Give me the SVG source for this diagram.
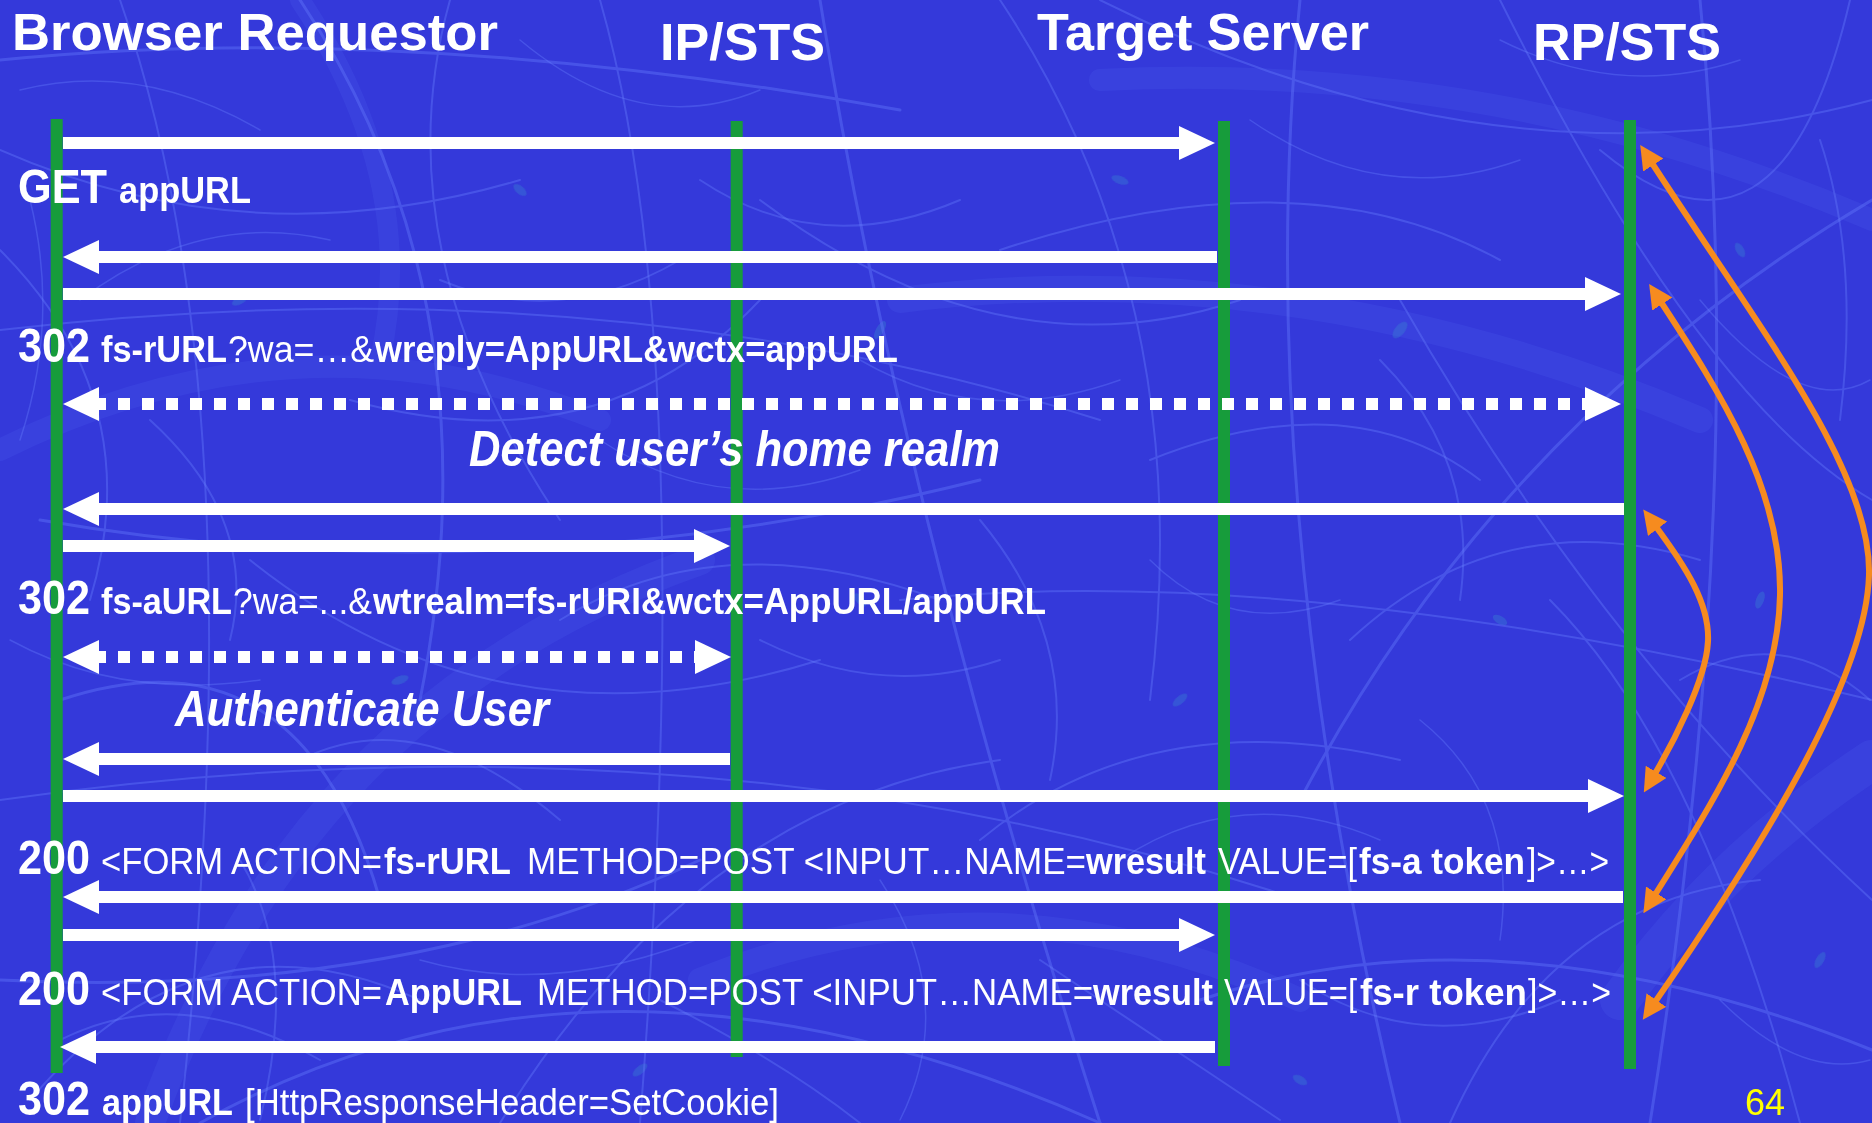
<svg xmlns="http://www.w3.org/2000/svg" width="1872" height="1123" viewBox="0 0 1872 1123">
  <defs>
    <style>
      .bg { fill: #3439da; }
      .fiber { fill: none; stroke: #6074f8; stroke-linecap: round; opacity: 0.45; }
      .thin { fill: none; stroke: #6a82ff; stroke-linecap: round; opacity: 0.35; }
      .band { fill: none; stroke: #4e64f2; stroke-linecap: round; opacity: 0.2; }
      .spot { fill: #3a8ad0; opacity: 0.35; }
      .life { stroke: #179c3b; stroke-width: 12; }
      .msg { fill: none; stroke: #ffffff; stroke-width: 12; marker-end: url(#head); }
      .dash { stroke-dasharray: 12 12; stroke-dashoffset: 4; marker-start: url(#head); }
      .loop { fill: none; stroke: #f68b1f; stroke-width: 6; marker-start: url(#ohead); marker-end: url(#ohead); }
      text { font-family: "Liberation Sans", Arial, sans-serif; fill: #ffffff; }
      .title { font-size: 52px; font-weight: 700; }
      .lbl { font-size: 36px; }
      .big { font-size: 48px; font-weight: 700; }
      .b { font-weight: 700; }
      .note { font-size: 50px; font-weight: 700; font-style: italic; }
      .page { font-size: 36px; fill: #ffff00; }
    </style>
    <marker id="head" viewBox="0 0 36 34" refX="1" refY="17" markerWidth="36" markerHeight="34" markerUnits="userSpaceOnUse" orient="auto-start-reverse">
      <path d="M0,0 L36,17 L0,34 z" fill="#ffffff"/>
    </marker>
    <marker id="ohead" viewBox="0 0 24 24" refX="6" refY="12" markerWidth="24" markerHeight="24" markerUnits="userSpaceOnUse" orient="auto-start-reverse">
      <path d="M0,0 L24,12 L0,24 z" fill="#f68b1f"/>
    </marker>
  </defs>

  <!-- textured blue backdrop -->
  <g id="backdrop">
    <rect class="bg" x="0" y="0" width="1872" height="1123"/>
    <g class="band">
      <path d="M150,1123 Q300,700 700,560" stroke-width="30"/>
      <path d="M0,450 Q300,300 600,420" stroke-width="22"/>
      <path d="M900,300 Q1300,250 1700,420" stroke-width="26"/>
      <path d="M1620,1000 Q1720,860 1872,760" stroke-width="40"/>
      <path d="M1100,80 Q1500,60 1872,220" stroke-width="22"/>
      <path d="M300,0 Q420,180 380,360" stroke-width="20"/>
      <path d="M700,980 Q1000,860 1300,1000" stroke-width="24"/>
    </g>
    <g class="spot">
      <ellipse cx="240" cy="300" rx="9" ry="4" transform="rotate(-30 240 300)"/>
      <ellipse cx="520" cy="190" rx="8" ry="4" transform="rotate(40 520 190)"/>
      <ellipse cx="880" cy="330" rx="10" ry="4" transform="rotate(-60 880 330)"/>
      <ellipse cx="1120" cy="180" rx="9" ry="4" transform="rotate(20 1120 180)"/>
      <ellipse cx="1400" cy="330" rx="10" ry="5" transform="rotate(-50 1400 330)"/>
      <ellipse cx="1740" cy="250" rx="8" ry="4" transform="rotate(60 1740 250)"/>
      <ellipse cx="1760" cy="600" rx="9" ry="4" transform="rotate(-70 1760 600)"/>
      <ellipse cx="1500" cy="620" rx="8" ry="4" transform="rotate(30 1500 620)"/>
      <ellipse cx="1180" cy="700" rx="9" ry="4" transform="rotate(-40 1180 700)"/>
      <ellipse cx="860" cy="600" rx="8" ry="4" transform="rotate(50 860 600)"/>
      <ellipse cx="400" cy="680" rx="9" ry="4" transform="rotate(-20 400 680)"/>
      <ellipse cx="1820" cy="960" rx="9" ry="4" transform="rotate(-60 1820 960)"/>
      <ellipse cx="1300" cy="1080" rx="8" ry="4" transform="rotate(30 1300 1080)"/>
      <ellipse cx="640" cy="1070" rx="9" ry="4" transform="rotate(-40 640 1070)"/>
    </g>
    <g class="fiber">
      <path d="M0,60 Q400,20 900,110" stroke-width="3"/>
      <path d="M120,0 Q260,400 180,1123" stroke-width="2"/>
      <path d="M300,0 Q500,300 420,700" stroke-width="3"/>
      <path d="M0,330 Q600,260 1100,420" stroke-width="2"/>
      <path d="M40,520 Q500,600 980,480" stroke-width="3"/>
      <path d="M600,0 Q700,350 640,1123" stroke-width="2"/>
      <path d="M820,0 Q900,500 1100,1123" stroke-width="3"/>
      <path d="M1000,0 Q1200,300 1150,700" stroke-width="2"/>
      <path d="M1300,0 Q1250,500 1400,1123" stroke-width="3"/>
      <path d="M1500,0 Q1700,400 1872,500" stroke-width="2"/>
      <path d="M1872,200 Q1500,420 1300,800" stroke-width="3"/>
      <path d="M0,800 Q700,700 1300,900" stroke-width="2"/>
      <path d="M200,1123 Q600,900 1100,1123" stroke-width="3"/>
      <path d="M900,600 Q1300,560 1872,700" stroke-width="2"/>
      <path d="M1100,0 Q1500,200 1872,100" stroke-width="2"/>
      <path d="M0,980 Q400,1000 700,860" stroke-width="3"/>
      <path d="M1400,300 Q1600,650 1872,900" stroke-width="2"/>
      <path d="M1700,0 Q1750,500 1650,1123" stroke-width="3"/>
      <path d="M500,1123 Q700,800 1000,760" stroke-width="2"/>
      <path d="M0,150 Q250,260 520,180" stroke-width="2"/>
      <path d="M1200,1000 Q1500,900 1872,1050" stroke-width="3"/>
      <path d="M350,400 Q600,470 760,300" stroke-width="2"/>
      <path d="M1000,250 Q1300,150 1500,260" stroke-width="2"/>
      <path d="M60,700 Q300,620 380,900" stroke-width="3"/>
      <path d="M1550,600 Q1700,750 1800,1123" stroke-width="2"/>
      <path d="M0,250 Q150,400 90,600" stroke-width="2"/>
      <path d="M450,0 Q380,250 560,520" stroke-width="2"/>
      <path d="M760,200 Q1000,380 1240,300" stroke-width="2"/>
      <path d="M1600,150 Q1780,300 1850,0" stroke-width="2"/>
      <path d="M1350,640 Q1500,500 1700,560" stroke-width="2"/>
      <path d="M250,560 Q500,760 820,660" stroke-width="2"/>
      <path d="M980,840 Q1150,700 1400,760" stroke-width="2"/>
      <path d="M30,1100 Q200,900 420,1000" stroke-width="2"/>
      <path d="M1450,1123 Q1550,900 1760,880" stroke-width="2"/>
      <path d="M560,620 Q720,520 940,600" stroke-width="2"/>
      <path d="M1150,460 Q1350,380 1480,480" stroke-width="2"/>
    </g>
    <g class="thin">
      <path d="M20,90 Q140,60 260,130" stroke-width="1.5"/>
      <path d="M80,300 Q200,210 330,240" stroke-width="1.5"/>
      <path d="M150,420 Q260,520 230,640" stroke-width="2"/>
      <path d="M10,640 Q120,700 260,680" stroke-width="1.5"/>
      <path d="M300,760 Q420,700 560,820" stroke-width="2"/>
      <path d="M420,960 Q560,1000 720,930" stroke-width="1.5"/>
      <path d="M60,1040 Q180,980 320,1060" stroke-width="2"/>
      <path d="M520,40 Q640,140 760,90" stroke-width="1.5"/>
      <path d="M700,180 Q820,260 960,200" stroke-width="2"/>
      <path d="M860,360 Q980,430 1120,380" stroke-width="1.5"/>
      <path d="M980,520 Q1080,640 1050,780" stroke-width="2"/>
      <path d="M1120,860 Q1240,780 1380,840" stroke-width="1.5"/>
      <path d="M1300,980 Q1420,1060 1560,1000" stroke-width="2"/>
      <path d="M1250,120 Q1380,210 1520,160" stroke-width="1.5"/>
      <path d="M1380,360 Q1480,460 1460,600" stroke-width="2"/>
      <path d="M1700,300 Q1800,420 1870,380" stroke-width="1.5"/>
      <path d="M1680,680 Q1780,620 1870,700" stroke-width="2"/>
      <path d="M1720,1000 Q1800,1080 1870,1060" stroke-width="1.5"/>
      <path d="M440,280 Q560,330 680,260" stroke-width="2"/>
      <path d="M600,440 Q720,520 860,470" stroke-width="1.5"/>
      <path d="M760,640 Q880,700 1000,660" stroke-width="2"/>
      <path d="M880,880 Q960,1000 900,1120" stroke-width="1.5"/>
      <path d="M1040,960 Q1160,1040 1280,1120" stroke-width="2"/>
      <path d="M1420,720 Q1520,800 1500,940" stroke-width="1.5"/>
      <path d="M240,860 Q300,960 260,1120" stroke-width="2"/>
      <path d="M30,200 Q60,320 20,440" stroke-width="1.5"/>
      <path d="M1820,140 Q1860,260 1840,420" stroke-width="2"/>
      <path d="M1500,40 Q1620,100 1740,60" stroke-width="1.5"/>
      <path d="M660,1000 Q780,1060 860,1123" stroke-width="2"/>
      <path d="M1150,560 Q1230,640 1340,600" stroke-width="1.5"/>
    </g>
  </g>

  <!-- participants: title and lifeline -->
  <g id="browser">
    <text class="title" x="12" y="50" textLength="486" lengthAdjust="spacingAndGlyphs">Browser Requestor</text>
    <line class="life" x1="56.7" y1="119" x2="56.7" y2="1073"/>
  </g>
  <g id="ip-sts">
    <text class="title" x="660" y="60" textLength="165" lengthAdjust="spacingAndGlyphs">IP/STS</text>
    <line class="life" x1="736.7" y1="121" x2="736.7" y2="1057"/>
  </g>
  <g id="target-server">
    <text class="title" x="1037" y="50" textLength="332" lengthAdjust="spacingAndGlyphs">Target Server</text>
    <line class="life" x1="1224" y1="121" x2="1224" y2="1066"/>
  </g>
  <g id="rp-sts">
    <text class="title" x="1533" y="60" textLength="188" lengthAdjust="spacingAndGlyphs">RP/STS</text>
    <line class="life" x1="1630" y1="120" x2="1630" y2="1069"/>
  </g>

  <!-- message labels -->
  <g id="labels">
    <text y="203"><tspan class="big" x="18" textLength="89" lengthAdjust="spacingAndGlyphs">GET</tspan><tspan class="lbl b" x="119" textLength="132" lengthAdjust="spacingAndGlyphs">appURL</tspan></text>

    <text y="362"><tspan class="big" x="18" textLength="72" lengthAdjust="spacingAndGlyphs">302</tspan><tspan class="lbl b" x="101" textLength="126" lengthAdjust="spacingAndGlyphs">fs-rURL</tspan><tspan class="lbl" x="228" textLength="146" lengthAdjust="spacingAndGlyphs">?wa=…&amp;</tspan><tspan class="lbl b" x="375" textLength="523" lengthAdjust="spacingAndGlyphs">wreply=AppURL&amp;wctx=appURL</tspan></text>

    <text class="note" x="469" y="466" textLength="531" lengthAdjust="spacingAndGlyphs">Detect user’s home realm</text>

    <text y="614"><tspan class="big" x="18" textLength="72" lengthAdjust="spacingAndGlyphs">302</tspan><tspan class="lbl b" x="101" textLength="131" lengthAdjust="spacingAndGlyphs">fs-aURL</tspan><tspan class="lbl" x="233" textLength="139" lengthAdjust="spacingAndGlyphs">?wa=...&amp;</tspan><tspan class="lbl b" x="373" textLength="673" lengthAdjust="spacingAndGlyphs">wtrealm=fs-rURI&amp;wctx=AppURL/appURL</tspan></text>

    <text class="note" x="175" y="726" textLength="374" lengthAdjust="spacingAndGlyphs">Authenticate User</text>

    <text y="874"><tspan class="big" x="18" textLength="72" lengthAdjust="spacingAndGlyphs">200</tspan><tspan class="lbl" x="101" textLength="281" lengthAdjust="spacingAndGlyphs">&lt;FORM ACTION=</tspan><tspan class="lbl b" x="384" textLength="127" lengthAdjust="spacingAndGlyphs">fs-rURL</tspan><tspan class="lbl" x="527" textLength="559" lengthAdjust="spacingAndGlyphs">METHOD=POST &lt;INPUT…NAME=</tspan><tspan class="lbl b" textLength="120" lengthAdjust="spacingAndGlyphs">wresult</tspan><tspan class="lbl" x="1218" textLength="139" lengthAdjust="spacingAndGlyphs">VALUE=[</tspan><tspan class="lbl b" x="1359" textLength="166" lengthAdjust="spacingAndGlyphs">fs-a token</tspan><tspan class="lbl" x="1527" textLength="82" lengthAdjust="spacingAndGlyphs">]&gt;…&gt;</tspan></text>

    <text y="1005"><tspan class="big" x="18" textLength="72" lengthAdjust="spacingAndGlyphs">200</tspan><tspan class="lbl" x="101" textLength="281" lengthAdjust="spacingAndGlyphs">&lt;FORM ACTION=</tspan><tspan class="lbl b" x="385" textLength="137" lengthAdjust="spacingAndGlyphs">AppURL</tspan><tspan class="lbl" x="537" textLength="556" lengthAdjust="spacingAndGlyphs">METHOD=POST &lt;INPUT…NAME=</tspan><tspan class="lbl b" textLength="120" lengthAdjust="spacingAndGlyphs">wresult</tspan><tspan class="lbl" x="1224" textLength="133" lengthAdjust="spacingAndGlyphs">VALUE=[</tspan><tspan class="lbl b" x="1360" textLength="167" lengthAdjust="spacingAndGlyphs">fs-r token</tspan><tspan class="lbl" x="1528" textLength="83" lengthAdjust="spacingAndGlyphs">]&gt;…&gt;</tspan></text>

    <text y="1115"><tspan class="big" x="18" textLength="72" lengthAdjust="spacingAndGlyphs">302</tspan><tspan class="lbl b" x="102" textLength="131" lengthAdjust="spacingAndGlyphs">appURL</tspan><tspan class="lbl" x="245" textLength="534" lengthAdjust="spacingAndGlyphs">[HttpResponseHeader=SetCookie]</tspan></text>

    <text class="page" x="1745" y="1115" textLength="40" lengthAdjust="spacingAndGlyphs">64</text>
  </g>

  <!-- request / response messages -->
  <g id="messages">
    <path class="msg" d="M63,143 H1180"/>
    <path class="msg" d="M1217,257 H98"/>
    <path class="msg" d="M63,294 H1586"/>
    <path class="msg dash" d="M98,404 H1586"/>
    <path class="msg" d="M1624,509 H98"/>
    <path class="msg" d="M63,546 H695"/>
    <path class="msg dash" d="M98,657 H696"/>
    <path class="msg" d="M730,759 H98"/>
    <path class="msg" d="M63,796 H1589"/>
    <path class="msg" d="M1623,897 H98"/>
    <path class="msg" d="M63,935 H1180"/>
    <path class="msg" d="M1215,1047 H95"/>
  </g>

  <!-- RP/STS round-trip pairings -->
  <g id="pairings">
    <path class="loop" d="M1650,160 C1760,330 1872,470 1869,575 S1760,850 1653,1005"/>
    <path class="loop" d="M1659,299 C1722,395 1782,490 1780,595 S1718,795 1653,898"/>
    <path class="loop" d="M1654,524 C1686,567 1710,604 1708,642 S1672,745 1653,777"/>
  </g>
</svg>
